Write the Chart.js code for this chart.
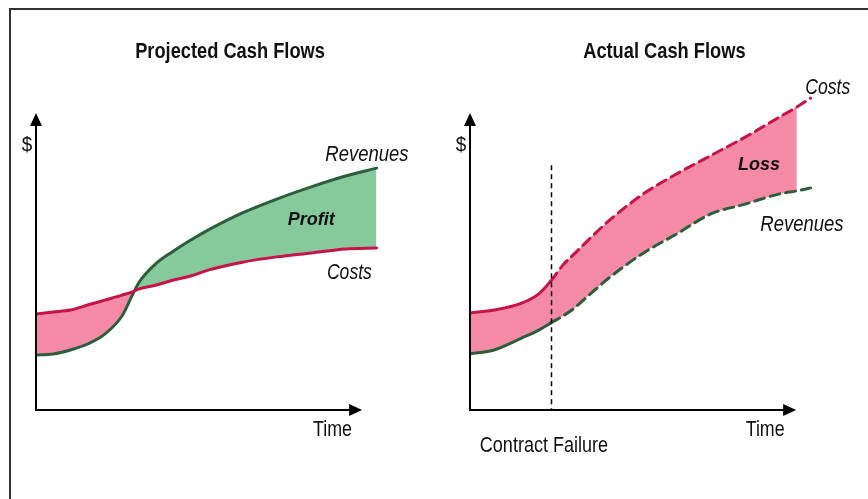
<!DOCTYPE html>
<html lang="en">
<head>
<meta charset="utf-8">
<title>Projected vs Actual Cash Flows</title>
<script src="https://cdn.jsdelivr.net/npm/chart.js"></script>
<style>
  * { margin: 0; padding: 0; box-sizing: border-box; }
  body { width: 868px; height: 499px; overflow: hidden; background: #fff; position: relative; }
  #frame { position: absolute; left: 9px; top: 8px; width: 900px; height: 520px; border-left: 2px solid #333; border-top: 2px solid #333; }
  .panel { position: absolute; top: 0; width: 434px; height: 499px; }
  #left { left: 0; }
  #right { left: 434px; }
</style>
</head>
<body>
<div id="frame"></div>
<div class="panel" id="left"><canvas id="projChart" width="434" height="499"></canvas></div>
<div class="panel" id="right"><canvas id="actChart" width="434" height="499"></canvas></div>
<script>
// time and money in arbitrary units (0..100)
const projTime     = [0, 5, 10, 15, 20, 25, 28, 30, 35, 40, 45, 50, 60, 70, 80, 90, 99];
const projCosts    = [29.1, 29.7, 30.3, 31.8, 33.3, 34.8, 35.8, 36.7, 37.9, 39.4, 40.6, 42.4, 44.8, 46.4, 47.6, 48.8, 49.1];
const projRevenues = [16.7, 17.0, 18.2, 20.0, 23.0, 28.5, 34.8, 38.8, 44.5, 48.2, 51.5, 54.5, 59.7, 63.9, 67.6, 70.9, 73.3];

const actTime      = [0, 7, 15, 20, 23.5, 27, 30, 35, 40, 50, 60, 70, 80, 90, 95, 99];
const actCosts     = [29.4, 30.3, 32.4, 35.2, 39.1, 43.9, 47.0, 52.1, 57.0, 65.2, 71.5, 77.1, 82.7, 88.8, 91.8, 94.5];
const actRevenues  = [17.0, 18.2, 21.8, 24.2, 26.4, 28.5, 30.6, 35.2, 39.7, 47.3, 53.3, 59.4, 62.4, 65.5, 66.4, 67.3];

const failureTime = 23.5;
const lossFillEnd = 95;
const axisEnd = { x: 94.8, y: 90 };

const RED = '#c8124a', GREEN = '#2d5e3c', PINK = '#f48aa6', MINT = '#86ca9b';
const SANS = '"Liberation Sans", Arial, sans-serif';

const pts = (t, v) => t.map((x, i) => ({ x, y: v[i] }));

function sketchPlugin(labels, failure) {
  return {
    id: 'sketch',
    afterDatasetsDraw(chart) {
      const { ctx, scales: { x, y } } = chart;
      const x0 = x.getPixelForValue(0), y0 = y.getPixelForValue(0);
      const xTip = x.getPixelForValue(axisEnd.x), yTip = y.getPixelForValue(axisEnd.y);
      ctx.save();
      if (failure) {
        const fx = Math.round(x.getPixelForValue(failure.x)) + 0.5;
        ctx.strokeStyle = '#000'; ctx.lineWidth = 1.5; ctx.setLineDash([5, 4]);
        ctx.beginPath(); ctx.moveTo(fx, y.getPixelForValue(failure.top)); ctx.lineTo(fx, y0); ctx.stroke();
        ctx.setLineDash([]);
      }
      // axes with arrow heads
      ctx.strokeStyle = '#000'; ctx.fillStyle = '#000'; ctx.lineWidth = 2;
      ctx.beginPath(); ctx.moveTo(x0, yTip + 10); ctx.lineTo(x0, y0); ctx.lineTo(xTip - 10, y0); ctx.stroke();
      ctx.beginPath(); ctx.moveTo(x0, yTip); ctx.lineTo(x0 - 6, yTip + 13); ctx.lineTo(x0 + 6, yTip + 13); ctx.fill();
      ctx.beginPath(); ctx.moveTo(xTip, y0); ctx.lineTo(xTip - 13, y0 - 6); ctx.lineTo(xTip - 13, y0 + 6); ctx.fill();
      // text (narrow faces are not installed, so squeeze horizontally)
      ctx.fillStyle = '#111'; ctx.textAlign = 'center'; ctx.textBaseline = 'middle';
      labels.forEach(l => {
        ctx.save();
        ctx.translate(x.getPixelForValue(l.x), y.getPixelForValue(l.y));
        ctx.scale(l.squeeze || 1, 1);
        ctx.font = l.font;
        ctx.fillText(l.text, 0, 0);
        ctx.restore();
      });
      ctx.restore();
    }
  };
}

function baseOptions() {
  return {
    responsive: false,
    animation: false,
    devicePixelRatio: 1,
    layout: { padding: { left: 36, right: 54, top: 80, bottom: 89 } },
    scales: {
      x: { type: 'linear', min: 0, max: 100, display: false },
      y: { min: 0, max: 100, display: false }
    },
    elements: { point: { radius: 0 }, line: { cubicInterpolationMode: 'monotone', borderWidth: 3, borderCapStyle: 'round' } },
    plugins: { legend: { display: false }, tooltip: { enabled: false } }
  };
}

new Chart(document.getElementById('projChart'), {
  type: 'line',
  data: {
    datasets: [
      { label: 'Costs', data: pts(projTime, projCosts), borderColor: RED, borderWidth: 3, fill: false },
      { label: 'Revenues', data: pts(projTime, projRevenues), borderColor: GREEN, borderWidth: 3,
        fill: { target: 0, above: MINT, below: PINK } }
    ]
  },
  options: baseOptions(),
  plugins: [sketchPlugin([
    { text: 'Projected Cash Flows', x: 56.4, y: 108.5, font: 'bold 22px ' + SANS, squeeze: 0.83 },
    { text: '$', x: -2.6, y: 80.3, font: '21px ' + SANS, squeeze: 0.9 },
    { text: 'Revenues', x: 96.2, y: 77.3, font: 'italic 22px ' + SANS, squeeze: 0.84 },
    { text: 'Costs', x: 91.1, y: 41.5, font: 'italic 22px ' + SANS, squeeze: 0.8 },
    { text: 'Profit', x: 80, y: 57.6, font: 'bold italic 18px ' + SANS },
    { text: 'Time', x: 86.2, y: -6.1, font: '22px ' + SANS, squeeze: 0.81 }
  ], null)]
});

const dashAfterFailure = ctx => ctx.p0.parsed.x >= failureTime ? [10, 6] : undefined;
const lossCosts = pts(actTime, actCosts).filter(p => p.x <= lossFillEnd);
const lossRevenues = pts(actTime, actRevenues).filter(p => p.x <= lossFillEnd);

// datasets are painted last-to-first, so the loss band goes at the end to sit under the lines
new Chart(document.getElementById('actChart'), {
  type: 'line',
  data: {
    datasets: [
      { label: 'Costs', data: pts(actTime, actCosts), borderColor: RED, borderWidth: 3, fill: false,
        segment: { borderDash: dashAfterFailure } },
      { label: 'Revenues', data: pts(actTime, actRevenues), borderColor: GREEN, borderWidth: 3, fill: false,
        segment: { borderDash: dashAfterFailure } },
      { label: 'lossTop', data: lossCosts, borderWidth: 0, borderColor: 'transparent', fill: false },
      { label: 'lossBottom', data: lossRevenues, borderWidth: 0, borderColor: 'transparent',
        fill: { target: 2, above: PINK, below: PINK } }
    ]
  },
  options: baseOptions(),
  plugins: [sketchPlugin([
    { text: 'Actual Cash Flows', x: 56.5, y: 108.5, font: 'bold 22px ' + SANS, squeeze: 0.83 },
    { text: '$', x: -2.6, y: 80.3, font: '21px ' + SANS, squeeze: 0.9 },
    { text: 'Costs', x: 104, y: 97.6, font: 'italic 22px ' + SANS, squeeze: 0.8 },
    { text: 'Loss', x: 84, y: 74.2, font: 'bold italic 18px ' + SANS },
    { text: 'Revenues', x: 96.5, y: 56.1, font: 'italic 22px ' + SANS, squeeze: 0.84 },
    { text: 'Time', x: 85.8, y: -6.1, font: '22px ' + SANS, squeeze: 0.81 },
    { text: 'Contract Failure', x: 21.5, y: -10.9, font: '22px ' + SANS, squeeze: 0.82 }
  ], { x: failureTime, top: 74.2 })]
});
</script>
</body>
</html>
